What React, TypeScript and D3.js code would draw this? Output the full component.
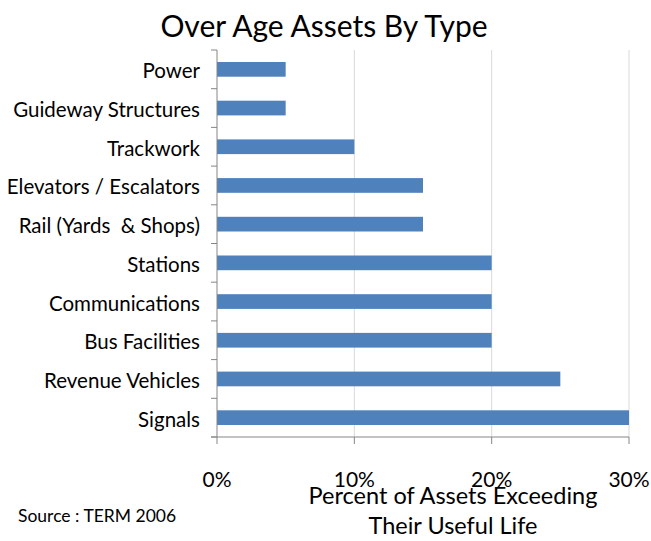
import React from "react";
import * as d3 from "d3";

const categories = [
  "Power",
  "Guideway Structures",
  "Trackwork",
  "Elevators / Escalators",
  "Rail (Yards  & Shops)",
  "Stations",
  "Communications",
  "Bus Facilities",
  "Revenue Vehicles",
  "Signals",
];
const values = [5, 5, 10, 15, 15, 20, 20, 20, 25, 30];
const xTicks = [0, 10, 20, 30];
const title = "Over Age Assets By Type";
const axisTitle = ["Percent of Assets Exceeding", "Their Useful Life"];
const source = "Source : TERM 2006";

const W = 651;
const H = 541;
const left = 217;
const right = 629;
const top = 50;
const bottom = 437;
const FONT = "Lato, 'Open Sans', sans-serif";

export default function App() {
  const x = d3.scaleLinear().domain([0, 30]).range([left, right]);
  const y = d3
    .scaleBand<string>()
    .domain(categories)
    .range([top, bottom])
    .paddingInner(0.62)
    .paddingOuter(0.31);
  const yEdges = d3.range(categories.length + 1).map((i) => top + (i * (bottom - top)) / categories.length);

  return (
    <svg
      width={W}
      height={H}
      style={{ position: "absolute", left: 0, top: 0, background: "#fff" }}
      fontFamily={FONT}
    >
      <rect width={W} height={H} fill="#fff" />
      <text x={324} y={37} textAnchor="middle" fontSize={30} fill="#000">
        {title}
      </text>
      {xTicks.slice(1).map((t) => (
        <line key={t} x1={x(t)} x2={x(t)} y1={top} y2={bottom} stroke="#d9d9d9" strokeWidth={1} />
      ))}
      {categories.map((c, i) => (
        <rect
          key={c}
          x={x(0)}
          y={y(c)!}
          width={x(values[i]) - x(0)}
          height={y.bandwidth()}
          fill="#4f81bd"
        />
      ))}
      <line x1={left} x2={left} y1={top} y2={bottom} stroke="#868686" />
      {yEdges.map((e, i) => (
        <line key={i} x1={left - 6} x2={left} y1={e} y2={e} stroke="#868686" />
      ))}
      <line x1={left - 6} x2={right} y1={bottom} y2={bottom} stroke="#868686" />
      {xTicks.map((t) => (
        <line key={t} x1={x(t)} x2={x(t)} y1={bottom} y2={bottom + 7} stroke="#868686" />
      ))}
      {categories.map((c) => (
        <text
          key={c}
          x={200}
          y={y(c)! + y.bandwidth() / 2 + 9}
          textAnchor="end"
          fontSize={20.5}
          fill="#000"
          style={{ whiteSpace: "pre" }}
        >
          {c}
        </text>
      ))}
      {xTicks.map((t) => (
        <text key={t} x={x(t)} y={487} textAnchor="middle" fontSize={21} fill="#000">
          {t}%
        </text>
      ))}
      {axisTitle.map((s, i) => (
        <text key={i} x={453} y={504 + i * 30} textAnchor="middle" fontSize={23.5} fill="#000">
          {s}
        </text>
      ))}
      <text x={18} y={522} fontSize={17.5} fill="#000">
        {source}
      </text>
    </svg>
  );
}
